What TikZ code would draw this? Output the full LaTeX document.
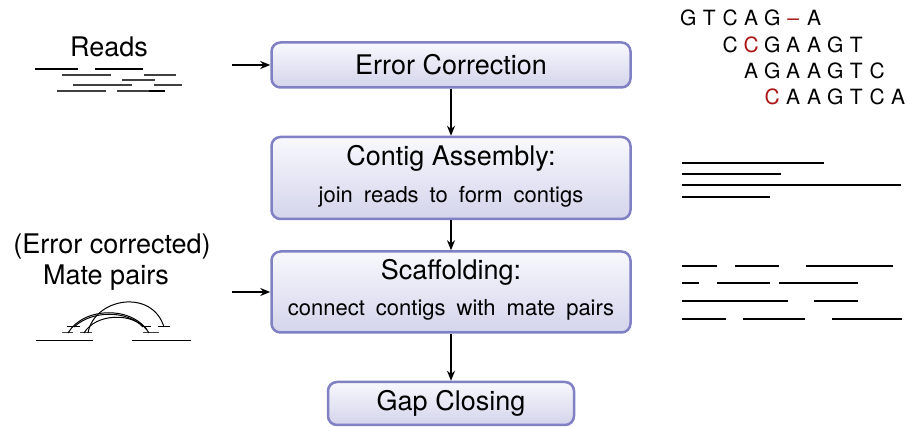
\documentclass[tikz,border=0pt]{standalone}
\usepackage{fontspec}
\setmainfont{TeX Gyre Heros}
\usetikzlibrary{arrows.meta}
\definecolor{boxtop}{RGB}{248,248,253}
\definecolor{boxbot}{RGB}{212,212,236}
\definecolor{boxline}{RGB}{128,128,196}
\definecolor{errred}{RGB}{170,20,20}
\newcommand\bigfont{\fontsize{27}{32}\selectfont}
\newcommand\subfont{\fontsize{22}{26}\selectfont\spaceskip=0.5em plus 0.1em}
\newcommand\seqfont{\fontsize{21}{24}\selectfont}
\newcommand\lt[1]{\makebox[21pt]{#1}}
\newcommand\rl[1]{\makebox[21pt]{\textcolor{errred}{#1}}}
\begin{document}
\begin{tikzpicture}[x=1pt,y=-1pt,
  stage/.style={draw=boxline, line width=2.5pt, rounded corners=9pt,
    top color=boxtop, bottom color=boxbot, font=\bigfont, inner sep=0pt},
  ttl/.style={font=\bigfont, inner sep=0pt},
  sub/.style={font=\subfont, inner sep=0pt},
  lbl/.style={font=\bigfont, inner sep=0pt},
  seq/.style={font=\seqfont, inner sep=0pt, anchor=west},
  flow/.style={line width=2pt, -{Stealth[length=10pt,width=8pt]}},
  readln/.style={line width=1.2pt, black!75},
  contigln/.style={line width=2pt},
  mateln/.style={line width=1pt}
]
\useasboundingbox (0,0) rectangle (908,427);

% stages
\node[stage, minimum width=359pt, minimum height=45pt] (ec) at (451,65) {Error Correction};
\node[stage, minimum width=359pt, minimum height=82pt] (ca) at (451,178) {};
\node[ttl] (catitle) at (451,158) {Contig Assembly:};
\node[sub] (casub) at (451,197) {join reads to form contigs};
\node[stage, minimum width=359pt, minimum height=81pt] (sc) at (451,292) {};
\node[ttl] (sctitle) at (451,272) {Scaffolding:};
\node[sub] (scsub) at (451,310) {connect contigs with mate pairs};
\node[stage, minimum width=246pt, minimum height=43pt] (gc) at (451,403.5) {Gap Closing};

\draw[flow] (ec.south) -- (ca.north);
\draw[flow] (ca.south) -- (sc.north);
\draw[flow] (sc.south) -- (gc.north);

% inputs
\node[lbl] (reads) at (109,47) {Reads};
\coordinate (rin) at (232,65);
\draw[flow] (rin) -- (ec.west);

\node[lbl] (errc) at (112,247) {(Error corrected)};
\node[lbl] (mate) at (106,278) {Mate pairs};
\coordinate (min) at (232,292);
\draw[flow] (min) -- (sc.west);

% reads sketch
\draw[line width=1.2pt] (35,69) -- (78,69) (95,69) -- (143,69);
\draw[readln] (62,75) -- (111,75) (144,75) -- (176,75);
\draw[readln] (122,80) -- (155,80);
\draw[readln] (73,85) -- (132,85) (154,85) -- (182,85);
\draw[readln] (57,91) -- (106,91) (117,91) -- (149,91);
\draw[line width=1.4pt] (149,91) -- (165,91);

% mate pairs sketch
\draw[mateln] (36,341) -- (93,341) (132,341) -- (191,341);
\draw[mateln, black!75] (62,333) -- (73,333) (80,333) -- (92,333) (143,333) -- (159,333);
\draw[mateln] (67,327) -- (80,327) (142,327) -- (151,327) (158,327) -- (170,327);
\draw[mateln] (68,333) .. controls (84,306) and (134,306) .. (149,333);
\draw[mateln] (74,327) .. controls (92,310) and (127,310) .. (143,327);
\draw[mateln] (88,333) .. controls (94,298) and (152,288) .. (164,327);
\draw[mateln] (84,333) .. controls (96,313) and (133,312) .. (147,330);

% sequences
\node[seq] (s1) at (677.5,18) {\lt{G}\lt{T}\lt{C}\lt{A}\lt{G}\rl{--}\lt{A}};
\node[seq] (s2) at (719.5,45) {\lt{C}\rl{C}\lt{G}\lt{A}\lt{A}\lt{G}\lt{T}};
\node[seq] (s3) at (740.5,71) {\lt{A}\lt{G}\lt{A}\lt{A}\lt{G}\lt{T}\lt{C}};
\node[seq] (s4) at (761.5,97) {\rl{C}\lt{A}\lt{A}\lt{G}\lt{T}\lt{C}\lt{A}};

% contigs
\draw[contigln] (682,163) -- (824,163);
\draw[contigln] (682,174) -- (781,174);
\draw[contigln] (682,185) -- (901,185);
\draw[contigln] (682,197) -- (770,197);

% scaffolds
\draw[contigln] (682,266) -- (717,266) (735,266) -- (779,266) (806,266) -- (893,266);
\draw[contigln] (682,283) -- (699,283) (717,283) -- (770,283) (779,283) -- (858,283);
\draw[contigln] (682,301) -- (788,301) (814,301) -- (858,301);
\draw[contigln] (682,319) -- (726,319) (743,319) -- (805,319) (832,319) -- (902,319);
\end{tikzpicture}
\end{document}
